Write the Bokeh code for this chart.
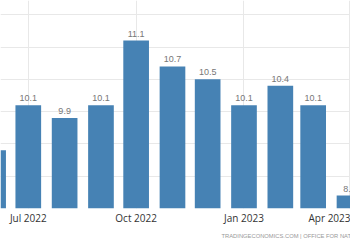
import pandas as pd
from bokeh.plotting import figure
from bokeh.models import FixedTicker, Range1d, Title, ColumnDataSource, DatetimeTickFormatter
from bokeh.embed import file_html
from bokeh.resources import INLINE

# Data: UK inflation rate (%)
months = ["2022-06-01", "2022-07-01", "2022-08-01", "2022-09-01", "2022-10-01", "2022-11-01",
          "2022-12-01", "2023-01-01", "2023-02-01", "2023-03-01", "2023-04-01"]
values = [9.4, 10.1, 9.9, 10.1, 11.1, 10.7, 10.5, 10.1, 10.4, 10.1, 8.7]
value_labels = ["9.4", "10.1", "9.9", "10.1", "11.1", "10.7", "10.5", "10.1", "10.4", "10.1", "8.7"]
tick_months = ["2022-07-01", "2022-10-01", "2023-01-01", "2023-04-01"]
source_text = "TRADINGECONOMICS.COM  |  OFFICE FOR NATIONAL STATISTICS"

DAY = 86400000.0
dates = pd.to_datetime(months)
src = ColumnDataSource(dict(x=dates, top=values, label=value_labels))

ref = pd.Timestamp("2022-07-01")
x_start = ref - pd.Timedelta(days=23.7)
x_end = ref + pd.Timedelta(days=274.85)

p = figure(width=350, height=250, output_backend="svg", toolbar_location=None,
           x_axis_type="datetime",
           x_range=Range1d(x_start, x_end), y_range=Range1d(8.5, 11.72),
           y_axis_location=None, min_border_left=0, min_border_right=0,
           min_border_top=0, min_border_bottom=42)
p.outline_line_color = None
p.background_fill_color = "white"
p.border_fill_color = "white"

p.vbar(x="x", top="top", bottom=8.5, width=21.9 * DAY, source=src,
       fill_color="#4682b4", line_color=None)
p.text(x="x", y="top", text="label", source=src, text_align="center",
       text_baseline="bottom", y_offset=-4, text_font_size="9px",
       text_color="#777777")

tick_pos = [pd.Timestamp(m).value / 1e6 for m in tick_months]
p.xaxis.ticker = FixedTicker(ticks=tick_pos)
p.xaxis.formatter = DatetimeTickFormatter(months="%b %Y", days="%b %Y")
p.xaxis.axis_line_color = None
p.xaxis.major_tick_line_color = None
p.xaxis.minor_tick_line_color = None
p.xaxis.major_tick_out = 0
p.xaxis.major_tick_in = 0
p.xaxis.major_label_standoff = 2
p.xaxis.major_label_text_font_size = "10px"
p.xaxis.major_label_text_color = "#333333"
p.xaxis.major_label_text_font = "Open Sans"

p.xgrid.ticker = FixedTicker(ticks=tick_pos)
p.xgrid.grid_line_color = "#e8e8e8"
p.ygrid.ticker = FixedTicker(ticks=[8.5, 9.0, 9.5, 10.0, 10.5, 11.0, 11.5])
p.ygrid.grid_line_color = "#e8e8e8"

p.add_layout(Title(text=source_text, align="left", offset=221,
                   text_font_size="5.8px", text_font_style="normal",
                   text_color="#999999", standoff=7), "below")

open("out.html", "w").write(file_html(p, INLINE))
